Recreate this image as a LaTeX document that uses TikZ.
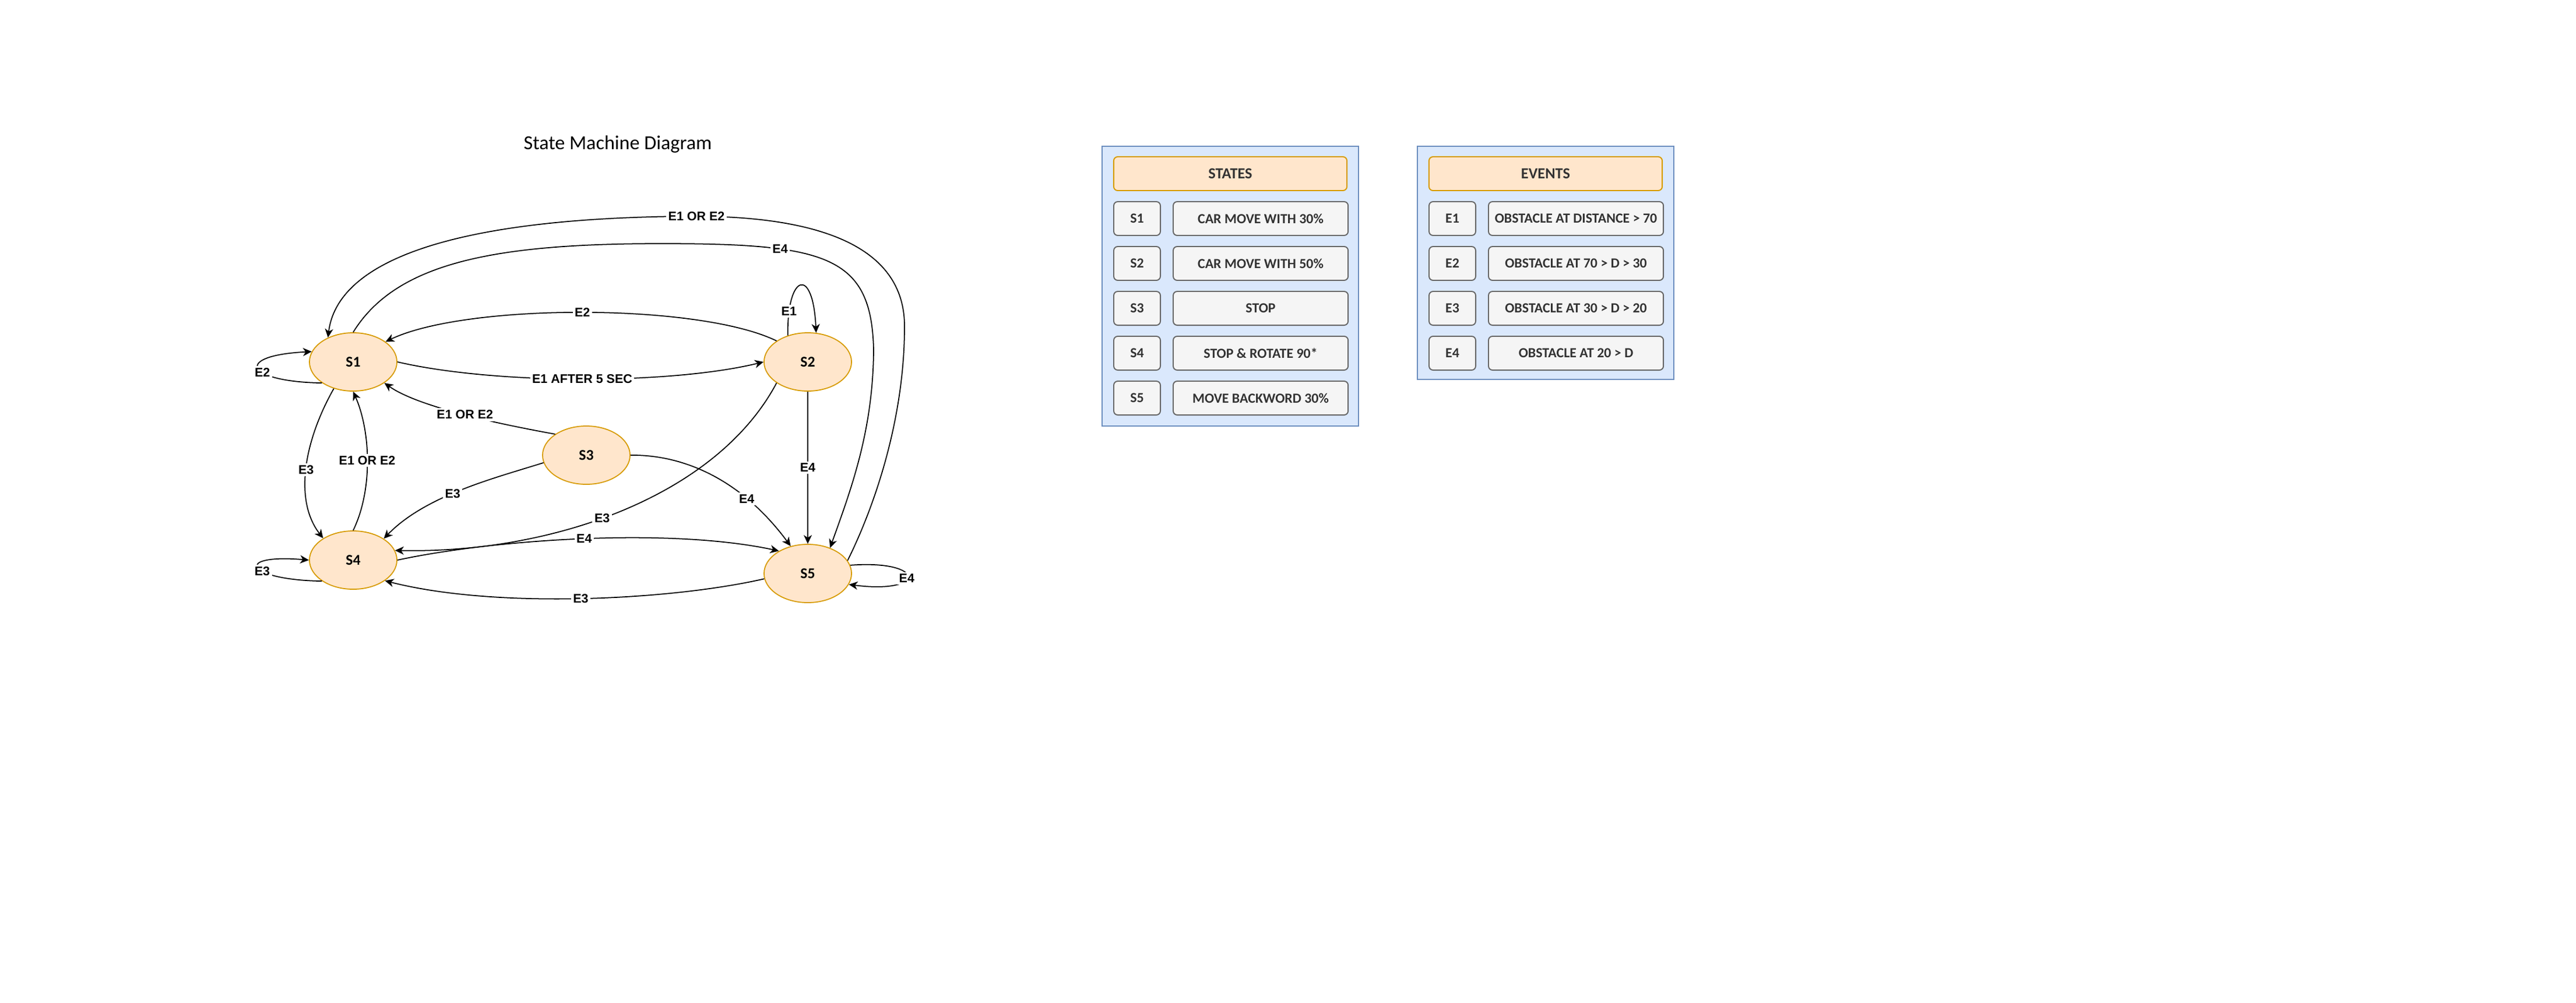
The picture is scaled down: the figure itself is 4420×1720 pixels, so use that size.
\documentclass[tikz,border=0pt]{standalone}
\usepackage{fontspec}
\setmainfont{Carlito}
\newfontfamily\lblfont{Liberation Sans}
\usetikzlibrary{arrows.meta,shapes,positioning,calc}
\definecolor{stfill}{HTML}{FFE6CC}
\definecolor{stline}{HTML}{D79B00}
\definecolor{panfill}{HTML}{DAE8FC}
\definecolor{panline}{HTML}{6C8EBF}
\definecolor{cellfill}{HTML}{F5F5F5}
\definecolor{cellline}{HTML}{666666}
\definecolor{celltext}{HTML}{333333}
\tikzset{
    state/.style={
        ellipse,
        draw=stline,
        fill=stfill,
        line width=0.5pt,
        minimum width=1.5cm,
        minimum height=1cm,
        inner sep=0pt,
        font=\bfseries\fontsize{7.3pt}{8pt}\selectfont,
    },
    lbl/.style={
        fill=white,
        inner sep=1pt,
        font=\lblfont\bfseries\fontsize{6.1pt}{7pt}\selectfont,
    },
    panel/.style={
        draw=panline,
        fill=panfill,
        line width=0.55pt,
        minimum width=4.4cm,
        inner sep=0pt,
    },
    head/.style={
        draw=stline,
        fill=stfill,
        rounded corners=0.07cm,
        line width=0.55pt,
        minimum width=4cm,
        minimum height=0.58cm,
        inner sep=0pt,
        text=celltext,
        font=\bfseries\fontsize{7.5pt}{8pt}\selectfont,
    },
    cell/.style={
        draw=cellline,
        fill=cellfill,
        rounded corners=0.07cm,
        line width=0.55pt,
        minimum width=0.8cm,
        minimum height=0.58cm,
        inner sep=0pt,
        text=celltext,
        font=\bfseries\fontsize{6.8pt}{8pt}\selectfont,
    },
}

\begin{document}
\begin{tikzpicture}[x=0.01cm,y=0.01cm,node distance=0.2cm,line width=0.5pt,
    >={Stealth[length=0.15cm,width=0.14cm,inset=0.045cm]}]
    \useasboundingbox (0,0) rectangle (4420,-1720);
    \node [font=\fontsize{9.7pt}{11pt}\selectfont] (title) at (1060,-248) {State Machine Diagram};
    \node [state] (S1) at (606,-621) {S1};
    \node [state] (S2) at (1386,-621) {S2};
    \node [state] (S3) at (1006,-781) {S3};
    \node [state] (S4) at (606,-961) {S4};
    \node [state] (S5) at (1386,-984) {S5};
    % self loops
    \draw[->] (S1.214) .. controls (420,-655) and (400,-610) .. (S1.166) node[lbl,pos=0.4] {E2};
    \draw[->] (S4.214) .. controls (420,-995) and (400,-950) .. (S4.180) node[lbl,pos=0.4] {E3};
    \draw[->] (S2.127) .. controls (1350,-470) and (1395,-455) .. (S2.74) node[lbl,pos=0.15] {E1};
    \draw[->] (S5.11) .. controls (1590,-960) and (1590,-1020) .. (S5.-15) node[lbl,pos=0.55] {E4};
    % transitions
    \draw[->] (S1.east) .. controls (850,-660) and (1150,-660) .. (S2.west) node[lbl,midway] {E1 AFTER 5 SEC};
    \draw[->] (S2.146) .. controls (1200,-520) and (800,-520) .. (S1.32) node[lbl,midway] {E2};
    \draw[->] (S3.146) .. controls (870,-730) and (720,-700) .. (S1.-34) node[lbl,midway] {E1 OR E2};
    \draw[->] (S1.234) .. controls (520,-760) and (505,-860) .. (S4.144) node[lbl,midway] {E3};
    \draw[->] (S4.north) .. controls (640,-840) and (636,-740) .. (S1.south) node[lbl,midway] {E1 OR E2};
    \draw[->] (S3.190) .. controls (850,-820) and (730,-850) .. (S4.35) node[lbl,pos=0.55] {E3};
    \draw[->] (S2.214) .. controls (1230,-850) and (950,-950) .. (S4.13) node[lbl,pos=0.55] {E3};
    \draw[->] (S3.east) .. controls (1170,-780) and (1270,-820) .. (S5.122) node[lbl,pos=0.72] {E4};
    \draw[->] (S2.south) -- (S5.north) node[lbl,midway] {E4};
    \draw[->] (S4.east) .. controls (850,-925) and (1150,-905) .. (S5.142) node[lbl,midway] {E4};
    \draw[->] (S5.187) .. controls (1150,-1030) and (850,-1045) .. (S4.-33) node[lbl,midway] {E3};
    \draw[->] (S1.north) .. controls (680,-450) and (850,-418) .. (1135,-418)
        .. controls (1420,-418) and (1495,-440) .. (1499,-600) node[lbl,pos=0.3] {E4}
        .. controls (1498,-740) and (1460,-840) .. (S5.49);
    \draw[->] (S5.18) .. controls (1500,-870) and (1552,-720) .. (1552,-560)
        .. controls (1552,-420) and (1400,-372) .. (1195,-371) node[lbl] {E1 OR E2}
        .. controls (800,-372) and (580,-440) .. (S1.136);
    % legend: states
    \node [panel,minimum height=4.8cm] (statebox) at (2111,-491) {};
    \node [head] (statehead) at (2111,-298) {STATES};
    \foreach \id/\txt [count=\i from 0] in {S1/CAR MOVE WITH 30\%,S2/CAR MOVE WITH 50\%,S3/STOP,S4/STOP \& ROTATE 90*,S5/MOVE BACKWORD 30\%}{
        \node [cell] (s\i) at (1951,-375-77*\i) {\id};
        \node [cell,minimum width=3cm,right=of s\i] (sd\i) {\txt};
    }
    % legend: events
    \node [panel,minimum height=4cm] (eventbox) at (2652,-451) {};
    \node [head] (eventhead) at (2652,-298) {EVENTS};
    \foreach \id/\txt [count=\i from 0] in {E1/OBSTACLE AT DISTANCE > 70,E2/OBSTACLE AT 70 > D > 30,E3/OBSTACLE AT 30 > D > 20,E4/OBSTACLE AT 20 > D}{
        \node [cell] (e\i) at (2492,-375-77*\i) {\id};
        \node [cell,minimum width=3cm,right=of e\i] (ed\i) {\txt};
    }
\end{tikzpicture}
\end{document}
